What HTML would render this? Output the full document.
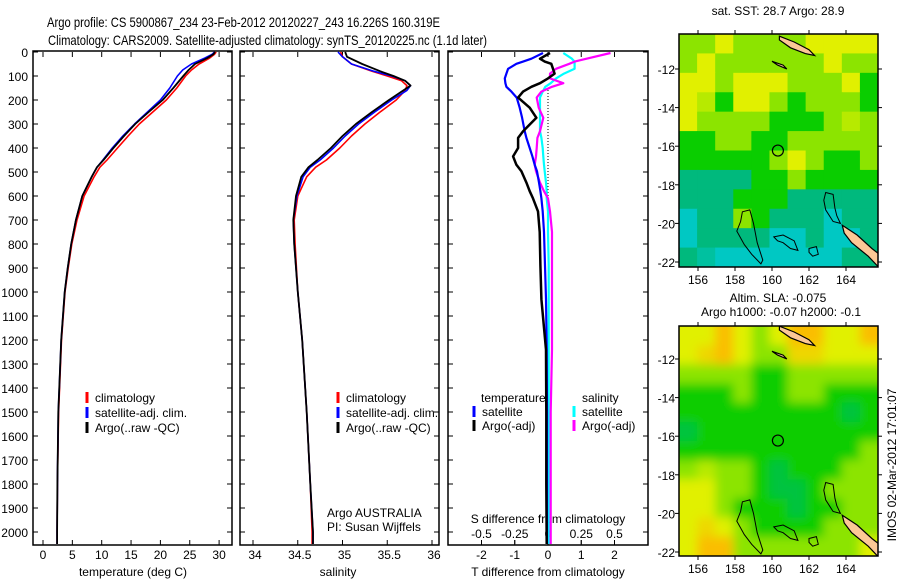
<!DOCTYPE html>
<html><head><meta charset="utf-8">
<style>
html,body{margin:0;padding:0;background:#fff;}
svg{display:block;font-family:"Liberation Sans",sans-serif;}
</style></head>
<body>
<svg id="fig" width="900" height="580" viewBox="0 0 900 580" xmlns="http://www.w3.org/2000/svg">
<defs>
<filter id="blur" x="-5%" y="-5%" width="110%" height="110%"><feGaussianBlur stdDeviation="5"/></filter>
<clipPath id="clipM1"><rect x="679" y="34" width="199" height="233"/></clipPath>
<clipPath id="clipM2"><rect x="679" y="326" width="199" height="230"/></clipPath>
</defs>
<text x="47" y="27" font-size="14" textLength="393" lengthAdjust="spacingAndGlyphs">Argo profile: CS 5900867_234 23-Feb-2012 20120227_243 16.226S 160.319E</text>
<text x="48" y="45" font-size="14" textLength="439" lengthAdjust="spacingAndGlyphs">Climatology: CARS2009. Satellite-adjusted climatology: synTS_20120225.nc (1.1d later)</text>
<g id="plots"></g>
</svg>
<script>
// ---------- data ----------
const depthTicks = [0,100,200,300,400,500,600,700,800,900,1000,1100,1200,1300,1400,1500,1600,1700,1800,1900,2000];
const tempTicks = [0,5,10,15,20,25,30];
const salTicks = [34,34.5,35,35.5,36];
const tdiffTicks = [-2,-1,0,1,2];
const sdiffTicks = [-0.5,-0.25,0,0.25,0.5];
const sdiffTickLabels = ["-0.5","-0.25","0","0.25","0.5"];

const tDepths = [0,10,25,50,75,100,150,200,250,300,350,400,450,480,520,600,700,800,900,1000,1200,1500,1800,2000,2050];
const tArgo   = [29.3,29.0,28.0,25.9,24.8,23.9,22.2,20.4,18.0,15.7,13.8,12.0,10.3,9.2,8.3,6.7,5.6,4.8,4.2,3.7,3.1,2.6,2.45,2.4,2.4];
const tClim   = [29.5,29.2,28.4,26.6,25.3,24.3,22.8,21.0,18.7,16.4,14.5,12.7,10.9,9.7,8.7,7.0,5.8,4.9,4.3,3.75,3.15,2.65,2.45,2.4,2.4];
const tSat    = [29.2,28.8,27.6,25.3,23.8,22.9,21.6,20.0,17.8,15.6,13.6,11.8,10.2,9.2,8.3,6.7,5.6,4.8,4.2,3.7,3.1,2.6,2.45,2.4,2.4];

const sDepths = [0,20,50,80,100,120,140,160,200,250,300,350,400,450,480,520,600,700,800,1000,1200,1500,1800,2000,2050];
const sArgo   = [35.03,35.05,35.22,35.42,35.57,35.7,35.76,35.68,35.52,35.33,35.15,35.0,34.87,34.72,34.62,34.54,34.48,34.45,34.46,34.5,34.55,34.6,34.64,34.67,34.67];
const sClim   = [34.98,35.0,35.1,35.33,35.5,35.66,35.72,35.7,35.6,35.42,35.25,35.1,34.97,34.82,34.7,34.6,34.5,34.46,34.47,34.5,34.55,34.6,34.64,34.66,34.66];
const sSat    = [34.95,35.0,35.1,35.35,35.55,35.7,35.76,35.72,35.55,35.36,35.18,35.03,34.9,34.75,34.64,34.56,34.49,34.45,34.46,34.5,34.55,34.6,34.64,34.67,34.67];

const dDepths = [4,28,40,49,70,90,110,130,145,165,190,232,274,330,358,400,435,470,497,544,580,610,664,750,890,1030,1240,1500,1800,2050];
const dTArgo  = [0.06,-0.24,-0.1,0.1,0.15,0.2,0.0,-0.24,-0.5,-0.75,-0.9,-0.55,-0.35,-0.75,-0.9,-0.9,-1.05,-0.95,-0.8,-0.65,-0.55,-0.45,-0.3,-0.25,-0.23,-0.2,-0.06,-0.05,-0.05,-0.04];
const dTSat   = [-0.15,-0.5,-0.75,-0.95,-1.2,-1.25,-1.3,-1.28,-1.25,-1.1,-0.94,-0.85,-0.78,-0.7,-0.65,-0.55,-0.47,-0.4,-0.33,-0.27,-0.23,-0.2,-0.16,-0.12,-0.09,-0.06,-0.04,-0.03,-0.03,-0.03];
const dSArgo  = [0.47,0.29,0.2,0.16,0.06,0.015,0.015,0.115,0.03,-0.05,-0.085,-0.07,-0.035,-0.06,-0.08,-0.085,-0.09,-0.1,-0.09,-0.06,-0.03,0.0,0.015,0.03,0.03,0.03,0.03,0.02,0.02,0.02];
const dSSat   = [0.115,0.18,0.2,0.2,0.2,0.12,0.06,0.02,-0.02,-0.04,-0.06,-0.06,-0.06,-0.06,-0.05,-0.04,-0.035,-0.03,-0.025,-0.015,-0.01,-0.01,0.0,0.0,0.005,0.005,0.005,0.005,0.005,0.005];

const lonTicks = [156,158,160,162,164];
const latTicks = [-12,-14,-16,-18,-20,-22];
const sstGrid = [
 [3,3,4,3,3,3,3,4,4,4,4],
 [3,4,3,3,3,3,3,3,4,3,3],
 [4,4,3,4,4,4,3,3,3,4,2],
 [4,3.5,2,4,4,3,2,3,3,3,2],
 [4,3,3,3,3,2,2,2,3,3.5,3],
 [2,2,3,3,2,2,3,3,3,3,3],
 [2,2,2,2,2,3,4,3,2,2,3],
 [1,1,1,1,2,2,3,2,2,2,2],
 [1,1,1,2,2,2,1,1,1,1,1],
 [0,1,1,3,2,1,1,1,0,1,1],
 [0,1,1,1,1,0,0,1,0,0,1],
 [1,0.5,0,0,0,0,0,0,0,1,1]];
const slaGrid = [
 [4,4,5,4,3,4,5,5,4,4,5],
 [4,4.5,5,4,3,3,4.5,4.5,4,4,4],
 [3,3,3,3,2,2,3,3,3,3,3],
 [2,2,2,3,2,2,3,3,2,2,2],
 [2,2,2,2,2,2,2,2,2,1.5,2],
 [1.5,2,2,2,2,2,2,2,2,2,2],
 [2,2,2,2,2,2,2,2,2,2,3],
 [3,3.5,3,3,2,1.5,2,2,2,3,3],
 [4,4,3,3,2,1.5,1.5,2,3,3,3],
 [4,4,3,2,2,2,1.5,2,2,3,3],
 [4,4.5,4,3,2,2,2,2,3,3,3],
 [4,5,5,3,3,3,3,3,3,3,4]];
const profLon = 160.319, profLat = -16.226;
const landTop = [[160.4,-10.3],[161.2,-10.6],[162.0,-11.0],[162.3,-11.3],[161.8,-11.2],[161.0,-10.9],[160.4,-10.5]];
const landSmall = [[160.0,-11.6],[160.6,-11.8],[160.8,-12.0],[160.3,-11.8]];
const landSE = [[163.8,-20.1],[164.6,-20.6],[165.4,-21.3],[165.8,-21.6],[165.8,-22.3],[165.2,-21.7],[164.3,-21.0],[163.9,-20.5]];
const contA = [[158.4,-19.4],[158.8,-19.3],[159.0,-20.0],[159.2,-21.0],[159.5,-21.9],[159.4,-22.1],[158.9,-21.6],[158.5,-21.1],[158.1,-20.4],[158.3,-19.9]];
const contB = [[162.9,-18.4],[163.3,-18.5],[163.4,-19.2],[163.5,-19.6],[163.7,-20.0],[163.3,-19.9],[162.9,-19.3],[162.8,-18.8]];
const contC = [[160.1,-20.7],[160.6,-20.6],[161.2,-20.9],[161.4,-21.4],[161.0,-21.3],[160.6,-21.0],[160.3,-20.9]];
const contD = [[162.0,-21.3],[162.4,-21.2],[162.5,-21.6],[162.2,-21.7],[162.0,-21.5]];

// ---------- helpers ----------
const NS = "http://www.w3.org/2000/svg";
const root = document.getElementById("plots");
function mk(tag, attrs, parent){ const e=document.createElementNS(NS,tag); for(const k in attrs) e.setAttribute(k,attrs[k]); (parent||root).appendChild(e); return e; }

const yTop = 52, pxPerM = 0.24, plotBottom = 545;
const yD = d => yTop + d*pxPerM;
const xT = t => 43 + t*5.87;
const xS = s => 253 + (s-34)*89.5;
const xDT = v => 548 + v*33.25;
const xDS = v => 548 + v*133;

function panel(x0,x1,name){
  const r = mk("rect",{x:x0,y:yTop-1,width:x1-x0,height:plotBottom-yTop+1,fill:"none",stroke:"#000","stroke-width":1.5});
  
  
  depthTicks.forEach(d=>{
    mk("line",{x1:x0,x2:x0+5,y1:yD(d),y2:yD(d),stroke:"#000"});
    mk("line",{x1:x1-5,x2:x1,y1:yD(d),y2:yD(d),stroke:"#000"});
  });
}
function txt(x,y,s,size,anchor,name){
  const t = mk("text",{x:x,y:y,"font-size":size,"text-anchor":anchor||"start"});
  t.textContent = s;
  
  
  return t;
}
function line(xs,ds,xf,color,w,name){
  const pts = xs.map((v,i)=>xf(v).toFixed(1)+","+yD(ds[i]).toFixed(1)).join(" ");
  const p = mk("polyline",{points:pts,fill:"none",stroke:color,"stroke-width":w,"stroke-linejoin":"round"});
  
  
}
function legendBar(x,y,color,label,name){
  mk("line",{x1:x,x2:x,y1:y-10,y2:y+1,stroke:color,"stroke-width":3});
  txt(x+8,y,label,12,"start",name);
}

// ---------- panel 1: temperature ----------
panel(33,232,"temperature-panel");
depthTicks.forEach(d=>txt(28,yD(d)+5,String(d),12,"end","depth-tick-label"));
tempTicks.forEach(t=>{
  mk("line",{x1:xT(t),x2:xT(t),y1:yTop,y2:yTop+5,stroke:"#000"});
  mk("line",{x1:xT(t),x2:xT(t),y1:plotBottom,y2:plotBottom-5,stroke:"#000"});
  txt(xT(t),plotBottom+14,String(t),12,"middle","temperature-tick-label");
});
txt(133,576,"temperature (deg C)",12,"middle","temperature-axis-title");
line(tClim,tDepths,xT,"#ff0000",1.6,"temperature-climatology-line");
line(tSat,tDepths,xT,"#0000ff",1.6,"temperature-satellite-line");
line(tArgo,tDepths,xT,"#000000",1.8,"temperature-argo-line");
legendBar(87,402,"#ff0000","climatology","legend-climatology");
legendBar(87,417,"#0000ff","satellite-adj. clim.","legend-satellite");
legendBar(87,432,"#000000","Argo(..raw -QC)","legend-argo");

// ---------- panel 2: salinity ----------
panel(240,439,"salinity-panel");
salTicks.forEach(s=>{
  mk("line",{x1:xS(s),x2:xS(s),y1:yTop,y2:yTop+5,stroke:"#000"});
  mk("line",{x1:xS(s),x2:xS(s),y1:plotBottom,y2:plotBottom-5,stroke:"#000"});
  txt(xS(s)+2,plotBottom+14,String(s),12,"middle","salinity-tick-label");
});
txt(338,576,"salinity",12,"middle","salinity-axis-title");
line(sClim,sDepths,xS,"#ff0000",1.6,"salinity-climatology-line");
line(sSat,sDepths,xS,"#0000ff",1.6,"salinity-satellite-line");
line(sArgo,sDepths,xS,"#000000",1.8,"salinity-argo-line");
legendBar(338,402,"#ff0000","climatology","legend-climatology-2");
legendBar(338,417,"#0000ff","satellite-adj. clim.","legend-satellite-2");
legendBar(338,432,"#000000","Argo(..raw -QC)","legend-argo-2");
txt(327,517,"Argo AUSTRALIA",12,"start","argo-program-label");
txt(327,531,"PI: Susan Wijffels",12,"start","pi-label");

// ---------- panel 3: differences ----------
panel(448,648,"difference-panel");
for(let y=90;y<204;y+=3) mk("line",{x1:548,x2:548,y1:y,y2:y+1,stroke:"#000","stroke-width":1});
tdiffTicks.forEach(v=>{
  mk("line",{x1:xDT(v),x2:xDT(v),y1:yTop,y2:yTop+5,stroke:"#000"});
  mk("line",{x1:xDT(v),x2:xDT(v),y1:plotBottom,y2:plotBottom-5,stroke:"#000"});
  txt(xDT(v),plotBottom+14,String(v),12,"middle","t-diff-tick-label");
});
sdiffTicks.forEach((v,i)=>{
  mk("line",{x1:xDS(v),x2:xDS(v),y1:plotBottom-1,y2:plotBottom-5,stroke:"#000"});
  txt(xDS(v),plotBottom-7,sdiffTickLabels[i],12,"middle","s-diff-tick-label");
});
txt(548,523,"S difference from climatology",12,"middle","s-diff-axis-title");
txt(548,576,"T difference from climatology",12,"middle","t-diff-axis-title");
line(dSSat,dDepths,xDS,"#00ffff",2.2,"s-diff-satellite-line");
line(dSArgo,dDepths,xDS,"#ff00ff",2.2,"s-diff-argo-line");
line(dTSat,dDepths,xDT,"#0000ff",2.2,"t-diff-satellite-line");
line(dTArgo,dDepths,xDT,"#000000",2.5,"t-diff-argo-line");
txt(481,402,"temperature",12,"start","legend-temperature-heading");
txt(582,402,"salinity",12,"start","legend-salinity-heading");
legendBar(474,416,"#0000ff","satellite","legend-t-satellite");
legendBar(474,430,"#000000","Argo(-adj)","legend-t-argo");
legendBar(574,416,"#00ffff","satellite","legend-s-satellite");
legendBar(574,430,"#ff00ff","Argo(-adj)","legend-s-argo");

// ---------- maps ----------
const stops = [[0,[0,200,195]],[1,[0,185,125]],[2,[10,205,0]],[3,[140,228,0]],[4,[225,240,0]],[5,[250,190,0]]];
function col(v){
  for(let i=0;i<stops.length-1;i++){
    if(v<=stops[i+1][0]){
      const f=(v-stops[i][0])/(stops[i+1][0]-stops[i][0]);
      const a=stops[i][1],b=stops[i+1][1];
      return "rgb("+a.map((c,k)=>Math.round(c+(b[k]-c)*f)).join(",")+")";
    }
  }
  return "rgb(250,190,0)";
}
function drawMap(y0,y1,grid,name,smooth,clipId,latY){
  const x0=679,x1=878;
  const xL = lon => 698 + (lon-156)*18.5;
  const g = mk("g",{"clip-path":"url(#"+clipId+")"});
  
  
  const gg = mk("g",smooth?{filter:"url(#blur)"}:{},g);
  const rows=grid.length, cols=grid[0].length;
  const cw=(x1-x0)/cols, ch=(y1-y0)/rows;
  grid.forEach((row,r)=>row.forEach((v,c)=>{
    let rx=x0+c*cw, ry=y0+r*ch, w=cw+0.6, h=ch+0.6;
    if(smooth){ if(c===0){rx-=15;w+=15;} if(c===cols-1)w+=15; if(r===0){ry-=15;h+=15;} if(r===rows-1)h+=15; }
    const cell = mk("rect",{x:rx,y:ry,width:w,height:h,fill:col(v)},gg);
    
    
  }));
  const pp = arr => arr.map(p=>xL(p[0]).toFixed(1)+","+latY(p[1]).toFixed(1)).join(" ");
  [landTop,landSmall,landSE].forEach(a=>mk("polygon",{points:pp(a),fill:"#fcc896",stroke:"#000","stroke-width":1.2},g));
  [contA,contB,contC,contD].forEach(a=>mk("polygon",{points:pp(a),fill:"none",stroke:"#000","stroke-width":1},g));
  const c = mk("circle",{cx:xL(profLon),cy:latY(profLat),r:5.5,fill:"none",stroke:"#000","stroke-width":1.2});
  
  
  const fr = mk("rect",{x:x0,y:y0,width:x1-x0,height:y1-y0,fill:"none",stroke:"#000","stroke-width":1.5});
  
  
  lonTicks.forEach(l=>{
    mk("line",{x1:xL(l),x2:xL(l),y1:y0,y2:y0-4,stroke:"#000"});
    mk("line",{x1:xL(l),x2:xL(l),y1:y1,y2:y1+4,stroke:"#000"});
    txt(xL(l),y1+17,String(l),12,"middle","longitude-tick-label");
  });
  latTicks.forEach(l=>{
    mk("line",{x1:x0,x2:x0-4,y1:latY(l),y2:latY(l),stroke:"#000"});
    mk("line",{x1:x1,x2:x1+4,y1:latY(l),y2:latY(l),stroke:"#000"});
    txt(x0-4,latY(l)+5,String(l),12,"end","latitude-tick-label");
  });
}
drawMap(34,267,sstGrid,"sst-map",false,"clipM1",lat=>69+(-12-lat)*19.3);
drawMap(326,556,slaGrid,"sla-map",true,"clipM2",lat=>359+(-12-lat)*19.3);
txt(778,15,"sat. SST: 28.7 Argo: 28.9",12,"middle","sst-map-title");
txt(778,302,"Altim. SLA: -0.075",12,"middle","sla-map-title");
txt(781,316,"Argo h1000: -0.07 h2000: -0.1",12,"middle","argo-height-label");
const imos = txt(0,0,"IMOS 02-Mar-2012 17:01:07",12,"middle","imos-timestamp");
imos.setAttribute("transform","translate(896,465) rotate(-90)");
</script>
</body></html>
